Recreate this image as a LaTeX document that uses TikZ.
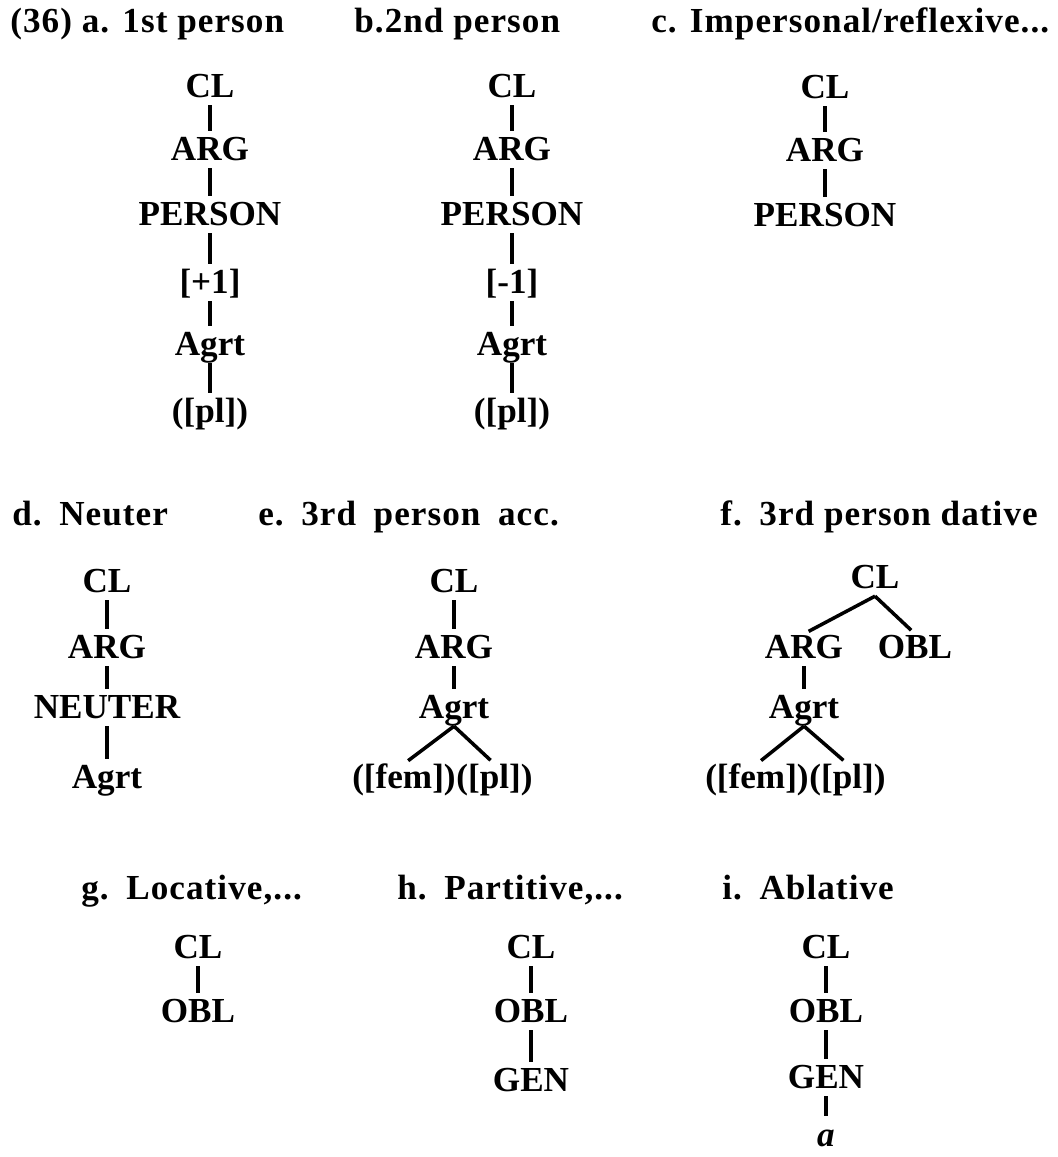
\documentclass[tikz,border=0pt]{standalone}
\usepackage{fontspec}
\setmainfont{Liberation Serif}
\newfontfamily\ttlfont[LetterSpace=3]{Liberation Serif}
\begin{document}
\begin{tikzpicture}[x=0.02cm, y=-0.02cm,
  lbl/.style={font=\fontsize{20}{24}\selectfont\bfseries, inner sep=0pt, text height=14pt, text depth=4pt},
  ttl/.style={font=\fontsize{20}{24}\selectfont\ttlfont\bfseries, inner sep=0pt, text height=14pt, text depth=4pt, anchor=west},
  branch/.style={line width=2pt, shorten >=3pt}]
  \useasboundingbox (0, 0) rectangle (1058, 1157);

  \node[ttl] (ta) at (10, 24) {(36) a. 1st person};
  \node[ttl] (tb) at (354, 24) {b.2nd person};
  \node[ttl] (tc) at (651, 24) {c. Impersonal/reflexive...};

  \node[lbl] (aCL) at (210, 89) {CL};
  \node[lbl] (aARG) at (210, 152) {ARG};
  \node[lbl] (aPER) at (210, 217) {PERSON};
  \node[lbl] (aOne) at (210, 285) {[+1]};
  \node[lbl] (aAgr) at (210, 347) {Agrt};
  \node[lbl] (aPl) at (210, 414) {([pl])};
  \draw[branch] (aCL) -- (aARG);
  \draw[branch] (aARG) -- (aPER);
  \draw[branch] (aPER) -- (aOne);
  \draw[branch] (aOne) -- (aAgr);
  \draw[branch] (aAgr) -- (aPl);

  \node[lbl] (bCL) at (512, 89) {CL};
  \node[lbl] (bARG) at (512, 152) {ARG};
  \node[lbl] (bPER) at (512, 217) {PERSON};
  \node[lbl] (bOne) at (512, 285) {[-1]};
  \node[lbl] (bAgr) at (512, 347) {Agrt};
  \node[lbl] (bPl) at (512, 414) {([pl])};
  \draw[branch] (bCL) -- (bARG);
  \draw[branch] (bARG) -- (bPER);
  \draw[branch] (bPER) -- (bOne);
  \draw[branch] (bOne) -- (bAgr);
  \draw[branch] (bAgr) -- (bPl);

  \node[lbl] (cCL) at (825, 90) {CL};
  \node[lbl] (cARG) at (825, 153) {ARG};
  \node[lbl] (cPER) at (825, 218) {PERSON};
  \draw[branch] (cCL) -- (cARG);
  \draw[branch] (cARG) -- (cPER);

  \node[ttl] (td) at (12, 517) {d.\enspace Neuter};
  \node[ttl] (te) at (258, 517) {e.\enspace 3rd\enspace person\enspace acc.};
  \node[ttl] (tf) at (720, 517) {f.\enspace 3rd person dative};

  \node[lbl] (dCL) at (107, 584) {CL};
  \node[lbl] (dARG) at (107, 650) {ARG};
  \node[lbl] (dNeu) at (107, 710) {NEUTER};
  \node[lbl] (dAgr) at (107, 780) {Agrt};
  \draw[branch] (dCL) -- (dARG);
  \draw[branch] (dARG) -- (dNeu);
  \draw[branch] (dNeu) -- (dAgr);

  \node[lbl] (eCL) at (454, 584) {CL};
  \node[lbl] (eARG) at (454, 650) {ARG};
  \node[lbl] (eAgr) at (454, 710) {Agrt};
  \node[lbl, anchor=east] (eFem) at (456, 780) {([fem])};
  \node[lbl, anchor=west] (ePl) at (456, 780) {([pl])};
  \draw[branch] (eCL) -- (eARG);
  \draw[branch] (eARG) -- (eAgr);
  \draw[branch] (eAgr.south) -- (eFem.north);
  \draw[branch] (eAgr.south) -- (ePl.north);

  \node[lbl] (fCL) at (875, 580) {CL};
  \node[lbl] (fARG) at (804, 650) {ARG};
  \node[lbl] (fOBL) at (915, 650) {OBL};
  \node[lbl] (fAgr) at (804, 710) {Agrt};
  \node[lbl, anchor=east] (fFem) at (809, 780) {([fem])};
  \node[lbl, anchor=west] (fPl) at (809, 780) {([pl])};
  \draw[branch] (fCL.south) -- (fARG.north);
  \draw[branch] (fCL.south) -- (fOBL.north);
  \draw[branch] (fARG) -- (fAgr);
  \draw[branch] (fAgr.south) -- (fFem.north);
  \draw[branch] (fAgr.south) -- (fPl.north);

  \node[ttl] (tg) at (81, 891) {g.\enspace Locative,...};
  \node[ttl] (th) at (397, 891) {h.\enspace Partitive,...};
  \node[ttl] (ti) at (722, 891) {i.\enspace Ablative};

  \node[lbl] (gCL) at (198, 950) {CL};
  \node[lbl] (gOBL) at (198, 1014) {OBL};
  \draw[branch] (gCL) -- (gOBL);

  \node[lbl] (hCL) at (531, 950) {CL};
  \node[lbl] (hOBL) at (531, 1014) {OBL};
  \node[lbl] (hGEN) at (531, 1083) {GEN};
  \draw[branch] (hCL) -- (hOBL);
  \draw[branch] (hOBL) -- (hGEN);

  \node[lbl] (iCL) at (826, 950) {CL};
  \node[lbl] (iOBL) at (826, 1014) {OBL};
  \node[lbl] (iGEN) at (826, 1080) {GEN};
  \node[lbl, text depth=0pt] (iA) at (826, 1134) {\itshape a};
  \draw[branch] (iCL) -- (iOBL);
  \draw[branch] (iOBL) -- (iGEN);
  \draw[branch] (iGEN) -- (iA);
\end{tikzpicture}
\end{document}
